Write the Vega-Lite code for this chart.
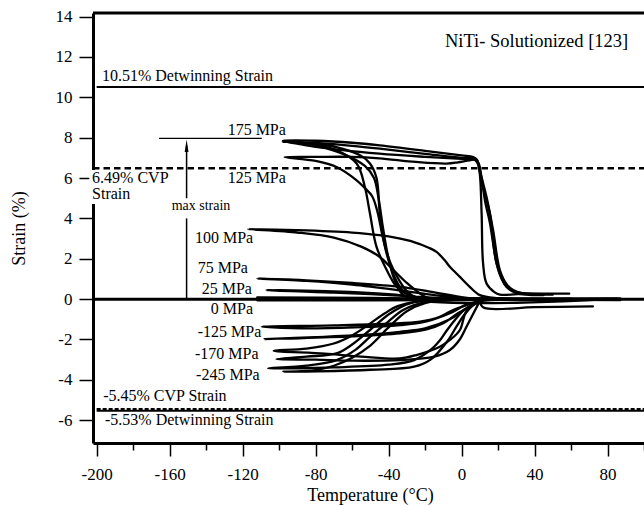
{
  "$schema": "https://vega.github.io/schema/vega-lite/v6.json",
  "width": 551,
  "height": 430,
  "autosize": "none",
  "padding": {"left": 93, "top": 13, "right": 0, "bottom": 63},
  "config": {
    "view": {"stroke": null},
    "font": "Liberation Serif",
    "text": {"font": "Liberation Serif"},
    "axis": {"grid": false, "domainColor": "black", "tickColor": "black", "labelColor": "black", "titleColor": "black", "labelFont": "Liberation Serif", "titleFont": "Liberation Serif", "titleFontWeight": "normal"}
  },
  "datasets": {
    "curves": [
      {"c":"175a","i":0,"T":85,"s":0.02},{"c":"175a","i":1,"T":40,"s":0.03},{"c":"175a","i":2,"T":0,"s":0.05},{"c":"175a","i":3,"T":-25,"s":0.1},{"c":"175a","i":4,"T":-31,"s":0.3},{"c":"175a","i":5,"T":-35.6,"s":0.61},{"c":"175a","i":6,"T":-41,"s":1.44},{"c":"175a","i":7,"T":-46.6,"s":2.59},{"c":"175a","i":8,"T":-50.2,"s":4.24},{"c":"175a","i":9,"T":-53,"s":5.56},{"c":"175a","i":10,"T":-57.5,"s":6.72},{"c":"175a","i":11,"T":-68.5,"s":7.38},{"c":"175a","i":12,"T":-80,"s":7.65},{"c":"175a","i":13,"T":-98,"s":7.86},{"c":"175a","i":14,"T":-80,"s":7.85},{"c":"175a","i":15,"T":-60,"s":7.75},{"c":"175a","i":16,"T":-44.8,"s":7.62},{"c":"175a","i":17,"T":-20,"s":7.35},{"c":"175a","i":18,"T":0,"s":7.12},{"c":"175a","i":19,"T":6.4,"s":7.04},{"c":"175a","i":20,"T":8.5,"s":6.9},{"c":"175a","i":21,"T":10,"s":6.22},{"c":"175a","i":22,"T":11,"s":4.24},{"c":"175a","i":23,"T":11.8,"s":1.77},{"c":"175a","i":24,"T":13.7,"s":0.78},{"c":"175a","i":25,"T":18,"s":0.35},{"c":"175a","i":26,"T":21,"s":0.22},{"c":"175a","i":27,"T":35,"s":0.27},{"c":"175a","i":28,"T":59,"s":0.27},
      {"c":"175b","i":0,"T":80,"s":0.0},{"c":"175b","i":1,"T":0,"s":0.03},{"c":"175b","i":2,"T":-28,"s":0.15},{"c":"175b","i":3,"T":-33.8,"s":0.61},{"c":"175b","i":4,"T":-37.5,"s":1.27},{"c":"175b","i":5,"T":-42,"s":2.59},{"c":"175b","i":6,"T":-44.8,"s":4.24},{"c":"175b","i":7,"T":-46.6,"s":6.0},{"c":"175b","i":8,"T":-50.2,"s":6.72},{"c":"175b","i":9,"T":-55,"s":7.1},{"c":"175b","i":10,"T":-65,"s":7.45},{"c":"175b","i":11,"T":-80,"s":7.7},{"c":"175b","i":12,"T":-98,"s":7.8},{"c":"175b","i":13,"T":-80,"s":7.74},{"c":"175b","i":14,"T":-60,"s":7.6},{"c":"175b","i":15,"T":-44.8,"s":7.46},{"c":"175b","i":16,"T":-20,"s":7.2},{"c":"175b","i":17,"T":0,"s":7.0},{"c":"175b","i":18,"T":6,"s":6.98},{"c":"175b","i":19,"T":8.5,"s":6.85},{"c":"175b","i":20,"T":10.5,"s":6.2},{"c":"175b","i":21,"T":13.7,"s":5.06},{"c":"175b","i":22,"T":17.3,"s":3.42},{"c":"175b","i":23,"T":21,"s":1.44},{"c":"175b","i":24,"T":25,"s":0.7},{"c":"175b","i":25,"T":28.3,"s":0.45},{"c":"175b","i":26,"T":33,"s":0.3},{"c":"175b","i":27,"T":50,"s":0.22},
      {"c":"175c","i":0,"T":80,"s":0.0},{"c":"175c","i":1,"T":-30,"s":0.1},{"c":"175c","i":2,"T":-36,"s":0.8},{"c":"175c","i":3,"T":-40,"s":2.0},{"c":"175c","i":4,"T":-43,"s":3.5},{"c":"175c","i":5,"T":-45.5,"s":5.0},{"c":"175c","i":6,"T":-48,"s":6.0},{"c":"175c","i":7,"T":-53,"s":6.6},{"c":"175c","i":8,"T":-65,"s":7.2},{"c":"175c","i":9,"T":-80,"s":7.6},{"c":"175c","i":10,"T":-97,"s":7.82},{"c":"175c","i":11,"T":-80,"s":7.55},{"c":"175c","i":12,"T":-45,"s":7.21},{"c":"175c","i":13,"T":-20,"s":7.05},{"c":"175c","i":14,"T":0,"s":6.95},{"c":"175c","i":15,"T":7,"s":6.92},{"c":"175c","i":16,"T":9,"s":6.7},{"c":"175c","i":17,"T":11,"s":5.8},{"c":"175c","i":18,"T":15.5,"s":4.24},{"c":"175c","i":19,"T":19.2,"s":1.77},{"c":"175c","i":20,"T":24.7,"s":0.61},{"c":"175c","i":21,"T":30,"s":0.3},{"c":"175c","i":22,"T":45,"s":0.2},
      {"c":"125","i":0,"T":80,"s":0.0},{"c":"125","i":1,"T":0,"s":0.02},{"c":"125","i":2,"T":-25,"s":0.08},{"c":"125","i":3,"T":-30,"s":0.4},{"c":"125","i":4,"T":-34,"s":0.9},{"c":"125","i":5,"T":-39,"s":1.8},{"c":"125","i":6,"T":-43,"s":3.0},{"c":"125","i":7,"T":-46,"s":4.3},{"c":"125","i":8,"T":-49,"s":5.1},{"c":"125","i":9,"T":-53,"s":5.5},{"c":"125","i":10,"T":-57.5,"s":5.89},{"c":"125","i":11,"T":-68.5,"s":6.55},{"c":"125","i":12,"T":-80,"s":6.85},{"c":"125","i":13,"T":-97,"s":7.04},{"c":"125","i":14,"T":-80,"s":7.05},{"c":"125","i":15,"T":-60,"s":7.05},{"c":"125","i":16,"T":-45,"s":6.98},{"c":"125","i":17,"T":-25,"s":6.8},{"c":"125","i":18,"T":-8.2,"s":6.72},{"c":"125","i":19,"T":-2,"s":6.78},{"c":"125","i":20,"T":4.5,"s":6.88},{"c":"125","i":21,"T":8,"s":6.9},{"c":"125","i":22,"T":9.5,"s":6.7},{"c":"125","i":23,"T":11,"s":6.0},{"c":"125","i":24,"T":13,"s":4.8},{"c":"125","i":25,"T":15.5,"s":3.8},{"c":"125","i":26,"T":19.2,"s":1.77},{"c":"125","i":27,"T":22,"s":1.0},{"c":"125","i":28,"T":24.7,"s":0.61},{"c":"125","i":29,"T":30,"s":0.35},{"c":"125","i":30,"T":45,"s":0.25},
      {"c":"100","i":0,"T":80,"s":0.0},{"c":"100","i":1,"T":0,"s":0.0},{"c":"100","i":2,"T":-18,"s":0.05},{"c":"100","i":3,"T":-22.8,"s":0.28},{"c":"100","i":4,"T":-30,"s":0.8},{"c":"100","i":5,"T":-38,"s":1.5},{"c":"100","i":6,"T":-45,"s":2.1},{"c":"100","i":7,"T":-55,"s":2.6},{"c":"100","i":8,"T":-70,"s":3.05},{"c":"100","i":9,"T":-90,"s":3.3},{"c":"100","i":10,"T":-117,"s":3.47},{"c":"100","i":11,"T":-90,"s":3.42},{"c":"100","i":12,"T":-60,"s":3.3},{"c":"100","i":13,"T":-45,"s":3.17},{"c":"100","i":14,"T":-35,"s":3.02},{"c":"100","i":15,"T":-26.5,"s":2.84},{"c":"100","i":16,"T":-18,"s":2.55},{"c":"100","i":17,"T":-13.7,"s":2.34},{"c":"100","i":18,"T":-9,"s":1.9},{"c":"100","i":19,"T":-6.4,"s":1.6},{"c":"100","i":20,"T":-0.9,"s":1.1},{"c":"100","i":21,"T":4.5,"s":0.61},{"c":"100","i":22,"T":10,"s":0.2},{"c":"100","i":23,"T":20,"s":0.05},{"c":"100","i":24,"T":60,"s":0.02},
      {"c":"75","i":0,"T":10,"s":0.0},{"c":"75","i":1,"T":0,"s":0.05},{"c":"75","i":2,"T":-15,"s":0.2},{"c":"75","i":3,"T":-35,"s":0.45},{"c":"75","i":4,"T":-60,"s":0.72},{"c":"75","i":5,"T":-85,"s":0.9},{"c":"75","i":6,"T":-112,"s":1.02},{"c":"75","i":7,"T":-85,"s":0.93},{"c":"75","i":8,"T":-60,"s":0.8},{"c":"75","i":9,"T":-33.8,"s":0.61},{"c":"75","i":10,"T":-20,"s":0.42},{"c":"75","i":11,"T":-11.9,"s":0.28},{"c":"75","i":12,"T":0,"s":0.1},{"c":"75","i":13,"T":10,"s":-0.02},
      {"c":"25","i":0,"T":10,"s":0.0},{"c":"25","i":1,"T":-10,"s":0.04},{"c":"25","i":2,"T":-40,"s":0.2},{"c":"25","i":3,"T":-70,"s":0.32},{"c":"25","i":4,"T":-107,"s":0.45},{"c":"25","i":5,"T":-70,"s":0.38},{"c":"25","i":6,"T":-40,"s":0.25},{"c":"25","i":7,"T":-22.8,"s":0.11},{"c":"25","i":8,"T":0,"s":0.02},{"c":"25","i":9,"T":10,"s":0.0},
      {"c":"0a","i":0,"T":-112,"s":0.08},{"c":"0a","i":1,"T":-50,"s":0.06},{"c":"0a","i":2,"T":0,"s":0.0},{"c":"0a","i":3,"T":87,"s":0.03},
      {"c":"0b","i":0,"T":-112,"s":-0.06},{"c":"0b","i":1,"T":0,"s":-0.05},{"c":"0b","i":2,"T":30,"s":-0.03},{"c":"0b","i":3,"T":87,"s":-0.05},
      {"c":"m125a","i":0,"T":60,"s":-0.05},{"c":"m125a","i":1,"T":10,"s":-0.1},{"c":"m125a","i":2,"T":2.7,"s":-0.3},{"c":"m125a","i":3,"T":-6,"s":-0.6},{"c":"m125a","i":4,"T":-11.9,"s":-0.88},{"c":"m125a","i":5,"T":-22.8,"s":-1.12},{"c":"m125a","i":6,"T":-40,"s":-1.22},{"c":"m125a","i":7,"T":-70,"s":-1.3},{"c":"m125a","i":8,"T":-109.5,"s":-1.37},{"c":"m125a","i":9,"T":-80,"s":-1.45},{"c":"m125a","i":10,"T":-50,"s":-1.38},{"c":"m125a","i":11,"T":-33.8,"s":-1.29},{"c":"m125a","i":12,"T":-19.2,"s":-1.1},{"c":"m125a","i":13,"T":-6.4,"s":-0.7},{"c":"m125a","i":14,"T":2,"s":-0.3},{"c":"m125a","i":15,"T":10,"s":-0.1},
      {"c":"m125b","i":0,"T":10,"s":-0.1},{"c":"m125b","i":1,"T":-2,"s":-0.7},{"c":"m125b","i":2,"T":-10,"s":-1.2},{"c":"m125b","i":3,"T":-19.2,"s":-1.5},{"c":"m125b","i":4,"T":-33.8,"s":-1.7},{"c":"m125b","i":5,"T":-60,"s":-1.85},{"c":"m125b","i":6,"T":-108,"s":-1.98},{"c":"m125b","i":7,"T":-80,"s":-1.88},{"c":"m125b","i":8,"T":-50,"s":-1.75},{"c":"m125b","i":9,"T":-33.8,"s":-1.62},{"c":"m125b","i":10,"T":-20,"s":-1.45},{"c":"m125b","i":11,"T":-6.4,"s":-1.0},{"c":"m125b","i":12,"T":2,"s":-0.5},{"c":"m125b","i":13,"T":10,"s":-0.1},
      {"c":"m170a","i":0,"T":10,"s":-0.1},{"c":"m170a","i":1,"T":2.7,"s":-0.6},{"c":"m170a","i":2,"T":-0.9,"s":-1.53},{"c":"m170a","i":3,"T":-6,"s":-2.0},{"c":"m170a","i":4,"T":-11.9,"s":-2.36},{"c":"m170a","i":5,"T":-24.7,"s":-2.77},{"c":"m170a","i":6,"T":-33.8,"s":-2.94},{"c":"m170a","i":7,"T":-55,"s":-2.85},{"c":"m170a","i":8,"T":-75,"s":-2.7},{"c":"m170a","i":9,"T":-103,"s":-2.56},{"c":"m170a","i":10,"T":-85,"s":-2.45},{"c":"m170a","i":11,"T":-70,"s":-2.2},{"c":"m170a","i":12,"T":-60,"s":-1.8},{"c":"m170a","i":13,"T":-50,"s":-1.2},{"c":"m170a","i":14,"T":-42,"s":-0.7},{"c":"m170a","i":15,"T":-35,"s":-0.35},{"c":"m170a","i":16,"T":-25,"s":-0.12},{"c":"m170a","i":17,"T":-10,"s":-0.05},
      {"c":"m170b","i":0,"T":10,"s":-0.1},{"c":"m170b","i":1,"T":2.7,"s":-1.37},{"c":"m170b","i":2,"T":-1,"s":-2.0},{"c":"m170b","i":3,"T":-6.4,"s":-2.52},{"c":"m170b","i":4,"T":-15,"s":-2.85},{"c":"m170b","i":5,"T":-33.8,"s":-3.02},{"c":"m170b","i":6,"T":-60,"s":-3.05},{"c":"m170b","i":7,"T":-80,"s":-3.0},{"c":"m170b","i":8,"T":-101.5,"s":-2.97},{"c":"m170b","i":9,"T":-85,"s":-2.85},{"c":"m170b","i":10,"T":-68.5,"s":-2.69},{"c":"m170b","i":11,"T":-60,"s":-2.25},{"c":"m170b","i":12,"T":-50.2,"s":-1.53},{"c":"m170b","i":13,"T":-39.2,"s":-0.71},{"c":"m170b","i":14,"T":-28.3,"s":-0.21},{"c":"m170b","i":15,"T":-15,"s":-0.05},
      {"c":"m245a","i":0,"T":10,"s":-0.1},{"c":"m245a","i":1,"T":1.3,"s":-0.54},{"c":"m245a","i":2,"T":-2.4,"s":-0.9},{"c":"m245a","i":3,"T":-7.9,"s":-1.53},{"c":"m245a","i":4,"T":-11.5,"s":-2.0},{"c":"m245a","i":5,"T":-17,"s":-2.52},{"c":"m245a","i":6,"T":-26,"s":-3.02},{"c":"m245a","i":7,"T":-40,"s":-3.25},{"c":"m245a","i":8,"T":-70,"s":-3.38},{"c":"m245a","i":9,"T":-106,"s":-3.43},{"c":"m245a","i":10,"T":-85,"s":-3.3},{"c":"m245a","i":11,"T":-68.5,"s":-3.02},{"c":"m245a","i":12,"T":-58,"s":-2.5},{"c":"m245a","i":13,"T":-50.2,"s":-1.87},{"c":"m245a","i":14,"T":-40,"s":-1.1},{"c":"m245a","i":15,"T":-32,"s":-0.54},{"c":"m245a","i":16,"T":-20,"s":-0.15},{"c":"m245a","i":17,"T":-5,"s":-0.05},
      {"c":"m245b","i":0,"T":8.5,"s":-0.05},{"c":"m245b","i":1,"T":1.3,"s":-0.8},{"c":"m245b","i":2,"T":-2.4,"s":-1.3},{"c":"m245b","i":3,"T":-7.9,"s":-2.1},{"c":"m245b","i":4,"T":-17,"s":-3.0},{"c":"m245b","i":5,"T":-26,"s":-3.35},{"c":"m245b","i":6,"T":-50,"s":-3.5},{"c":"m245b","i":7,"T":-97.7,"s":-3.6},{"c":"m245b","i":8,"T":-80,"s":-3.52},{"c":"m245b","i":9,"T":-70,"s":-3.3},{"c":"m245b","i":10,"T":-60,"s":-2.9},{"c":"m245b","i":11,"T":-50,"s":-2.3},{"c":"m245b","i":12,"T":-40,"s":-1.4},{"c":"m245b","i":13,"T":-30,"s":-0.6},{"c":"m245b","i":14,"T":-20,"s":-0.2},{"c":"m245b","i":15,"T":-8,"s":-0.05},
      {"c":"tail","i":0,"T":10,"s":-0.1},{"c":"tail","i":1,"T":12,"s":-0.42},{"c":"tail","i":2,"T":40,"s":-0.4},{"c":"tail","i":3,"T":72,"s":-0.36}
    ],
    "box": [{"T":-204,"T2":-166,"s":4.72,"s2":6.4}],
    "solid": [{"T":-200,"T2":100,"s":10.51},{"T":-200,"T2":100,"s":-5.53}],
    "dashA": [{"T":-202,"T2":100,"s":6.49}],
    "dashB": [{"T":-200,"T2":100,"s":-5.45}],
    "thick": [{"T":-202,"T2":100,"s":0},{"T":-202,"T2":100,"s":14.18}],
    "thin": [{"T":-165.8,"T2":-109.5,"s":7.97}],
    "vert": [{"T":-150.7,"s":0,"s2":4.0},{"T":-150.7,"s":5.0,"s2":7.6}],
    "arrow": [{"T":-150.7,"s":7.6}],
    "labels": [
      {"t":"10.51% Detwinning Strain","T":-197.1,"s":10.79},
      {"t":"175 MPa","T":-128.2,"s":8.13},
      {"t":"6.49% CVP","T":-202.5,"s":5.74},
      {"t":"Strain","T":-202.5,"s":4.95},
      {"t":"125 MPa","T":-128.2,"s":5.77},
      {"t":"100 MPa","T":-146.1,"s":2.77},
      {"t":"75 MPa","T":-144.6,"s":1.28},
      {"t":"25 MPa","T":-142.4,"s":0.26},
      {"t":"0 MPa","T":-137.4,"s":-0.76},
      {"t":"-125 MPa","T":-144.6,"s":-1.88},
      {"t":"-170 MPa","T":-146.1,"s":-2.98},
      {"t":"-245 MPa","T":-145.5,"s":-3.99},
      {"t":"-5.45% CVP Strain","T":-196.4,"s":-5.03},
      {"t":"-5.53% Detwinning Strain","T":-195.4,"s":-6.22}
    ],
    "heading": [{"t":"NiTi- Solutionized [123]","T":-9.1,"s":12.51}],
    "small": [{"t":"max strain","T":-158.9,"s":4.41}]
  },
  "encoding": {
    "x": {
      "field": "T", "type": "quantitative",
      "scale": {"domain": [-202, 100], "nice": false, "zero": false},
      "axis": {
        "title": "Temperature (°C)",
        "values": [-200,-180,-160,-140,-120,-100,-80,-60,-40,-20,0,20,40,60,80,100],
        "labelExpr": "datum.value % 40 === 0 ? '' + datum.value : ''",
        "tickSize": {"condition": {"test": "datum.value % 40 !== 0", "value": 7}, "value": 13},
        "domainWidth": 3, "tickWidth": 1.5,
        "labelFont": "Liberation Serif", "titleFont": "Liberation Serif",
        "labelFontSize": 17, "titleFontSize": 18,
        "labelPadding": 10, "labelFlush": false, "labelOverlap": false,
        "titleX": 277, "titleY": 57, "titleBaseline": "alphabetic"
      }
    },
    "y": {
      "field": "s", "type": "quantitative",
      "scale": {"domain": [-7.13, 14.18], "nice": false, "zero": false},
      "axis": {
        "title": "Strain (%)",
        "values": [-6,-4,-2,0,2,4,6,8,10,12,14],
        "labelExpr": "'' + datum.value",
        "tickSize": 14, "domainWidth": 3, "tickWidth": 1.5,
        "labelFont": "Liberation Serif", "titleFont": "Liberation Serif",
        "labelFontSize": 17, "titleFontSize": 18, "labelPadding": 7,
        "titleX": -74, "titleY": 215, "titleAngle": 270, "titleAlign": "center", "titleBaseline": "middle"
      }
    }
  },
  "layer": [
    {"data": {"name": "box"}, "mark": {"type": "rect", "color": "white"}, "encoding": {"x2": {"field": "T2"}, "y2": {"field": "s2"}}},
    {"data": {"name": "solid"}, "mark": {"type": "rule", "color": "black", "strokeWidth": 2}, "encoding": {"x2": {"field": "T2"}}},
    {"data": {"name": "dashA"}, "mark": {"type": "rule", "color": "black", "strokeWidth": 2.5, "strokeDash": [6.5, 4]}, "encoding": {"x2": {"field": "T2"}}},
    {"data": {"name": "dashB"}, "mark": {"type": "rule", "color": "black", "strokeWidth": 2, "strokeDash": [4, 2]}, "encoding": {"x2": {"field": "T2"}}},
    {"data": {"name": "thick"}, "mark": {"type": "rule", "color": "black", "strokeWidth": 3}, "encoding": {"x2": {"field": "T2"}}},
    {"data": {"name": "thin"}, "mark": {"type": "rule", "color": "black", "strokeWidth": 1.2}, "encoding": {"x2": {"field": "T2"}}},
    {"data": {"name": "vert"}, "mark": {"type": "rule", "color": "black", "strokeWidth": 1.5}, "encoding": {"y2": {"field": "s2"}}},
    {"data": {"name": "arrow"}, "mark": {"type": "point", "shape": "M0,-1L0.3,1L-0.3,1Z", "size": 161, "filled": true, "color": "black", "opacity": 1}},
    {"data": {"name": "curves"}, "mark": {"type": "line", "color": "black", "strokeWidth": 2.3, "interpolate": "catmull-rom", "strokeJoin": "round", "strokeCap": "round"}, "encoding": {"detail": {"field": "c"}, "order": {"field": "i", "type": "quantitative"}}},
    {"data": {"name": "labels"}, "mark": {"type": "text", "font": "Liberation Serif", "fontSize": 16, "align": "left", "baseline": "alphabetic", "color": "black"}, "encoding": {"text": {"field": "t"}}},
    {"data": {"name": "heading"}, "mark": {"type": "text", "font": "Liberation Serif", "fontSize": 18.5, "align": "left", "baseline": "alphabetic", "color": "black"}, "encoding": {"text": {"field": "t"}}},
    {"data": {"name": "small"}, "mark": {"type": "text", "font": "Liberation Serif", "fontSize": 14, "align": "left", "baseline": "alphabetic", "color": "black"}, "encoding": {"text": {"field": "t"}}}
  ]
}
